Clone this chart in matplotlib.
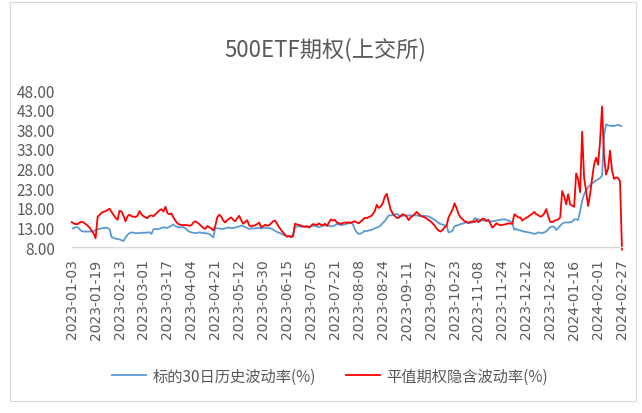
import matplotlib
matplotlib.use("Agg")
import matplotlib.pyplot as plt
import numpy as np
from matplotlib.patches import Rectangle
from matplotlib.lines import Line2D

plt.rcParams['font.family'] = ['Noto Sans CJK SC', 'DejaVu Sans']

title = "500ETF期权(上交所)"
series_names = ["标的30日历史波动率(%)", "平值期权隐含波动率(%)"]

tick_labels = ["2023-01-03", "2023-01-19", "2023-02-13", "2023-03-01", "2023-03-17",
               "2023-04-04", "2023-04-21", "2023-05-12", "2023-05-30", "2023-06-15",
               "2023-07-05", "2023-07-21", "2023-08-08", "2023-08-24", "2023-09-11",
               "2023-09-27", "2023-10-23", "2023-11-08", "2023-11-24", "2023-12-12",
               "2023-12-28", "2024-01-16", "2024-02-01", "2024-02-27"]
tick_step = 12  # trading days between labelled categories

hist_vol = [
    12.7, 12.9, 13.1, 13.1, 12.6, 12.1, 12.0, 12.0, 12.0, 12.0, 12.1, 12.2, 12.3,
    12.6, 12.7, 12.8, 12.9, 13.0, 12.9, 12.6, 10.6, 10.4, 10.2, 10.1, 10.0,
    9.8, 9.6, 10.5, 11.2, 11.6, 11.8, 11.7, 11.6, 11.6, 11.6, 11.7, 11.7,
    11.7, 11.8, 11.8, 11.4, 12.6, 12.7, 12.6, 12.7, 12.9, 13.1, 13.0, 12.9,
    13.2, 13.5, 13.8, 13.4, 13.2, 13.1, 13.1, 13.1, 12.9, 12.3, 12.0, 11.8,
    11.7, 11.6, 11.7, 11.8, 11.7, 11.6, 11.6, 11.5, 11.4, 11.0, 10.5, 12.9,
    12.8, 12.8, 12.7, 12.7, 12.8, 13.0, 13.0, 12.9, 12.9, 13.0, 13.2, 13.3,
    13.5, 13.4, 13.1, 12.9, 12.7, 12.8, 12.8, 12.8, 12.9, 12.9, 12.8, 12.9,
    13.0, 12.9, 12.9, 12.8, 12.5, 12.2, 11.9, 11.7, 11.5, 11.2, 11.0, 10.9,
    10.8, 10.8, 11.2, 13.2, 13.3, 13.3, 13.2, 13.3, 13.3, 13.2, 13.2, 13.3,
    13.5, 13.4, 13.3, 13.1, 13.3, 13.5, 13.6, 13.7, 13.5, 13.3, 13.4, 13.6,
    13.9, 13.8, 13.7, 13.7, 13.8, 14.0, 14.1, 14.2, 13.9, 12.6, 11.8, 11.4,
    11.5, 11.8, 12.2, 12.1, 12.3, 12.4, 12.6, 12.8, 13.0, 13.2, 13.6, 14.2,
    14.6, 15.4, 16.1, 16.1, 16.2, 16.3, 16.5, 16.2, 15.8, 16.0, 16.1, 16.1,
    16.1, 16.1, 16.1, 16.1, 16.1, 16.0, 16.0, 16.0, 16.0, 15.9, 15.9, 15.6,
    15.3, 15.0, 14.6, 14.2, 13.9, 13.8, 13.6, 13.5, 11.8, 11.9, 12.2, 13.4,
    13.5, 13.7, 13.9, 14.0, 14.2, 14.3, 14.2, 14.2, 14.3, 15.4, 15.3, 15.1,
    14.9, 14.8, 14.8, 14.8, 14.7, 14.6, 14.6, 14.7, 14.8, 14.9, 15.0, 15.1,
    15.1, 15.0, 14.8, 14.6, 14.2, 12.4, 12.7, 12.4, 12.3, 12.1, 12.0, 11.9,
    11.8, 11.7, 11.6, 11.4, 11.5, 11.8, 11.7, 11.6, 11.8, 12.0, 12.6, 13.1,
    13.3, 13.2, 12.4, 12.9, 13.5, 14.0, 14.3, 14.3, 14.3, 14.4, 14.5, 15.1,
    15.1, 15.0, 17.2, 19.8, 21.5, 22.5, 23.3, 23.8, 24.2, 24.6, 25.0, 25.3,
    25.6, 26.2, 36.5, 39.3, 39.0, 38.9, 38.9, 38.8, 39.0, 39.2, 38.9, 38.8,
]

impl_vol = [
    14.4, 14.1, 13.9, 13.9, 14.3, 14.5, 14.3, 13.9, 13.5, 13.0, 12.2, 11.5, 10.3,
    15.8, 16.2, 16.8, 17.0, 17.2, 17.5, 17.8, 17.0, 16.2, 15.5, 15.0, 17.3,
    17.1, 16.0, 14.6, 15.9, 16.3, 15.9, 15.8, 15.7, 16.0, 17.2, 16.4, 15.9,
    15.6, 15.4, 16.0, 16.1, 15.9, 16.4, 16.9, 17.4, 17.7, 17.1, 18.3, 16.7,
    16.4, 16.6, 15.6, 14.8, 14.1, 13.8, 13.7, 13.6, 13.7, 13.6, 13.5, 13.6,
    14.3, 14.6, 14.3, 13.9, 13.4, 12.9, 12.7, 13.4, 13.1, 12.8, 12.3, 13.4,
    15.6, 16.3, 15.8, 14.8, 14.3, 14.9, 15.3, 15.6, 15.0, 14.6, 15.4, 16.0,
    14.9, 14.0, 14.4, 14.9, 13.6, 13.3, 13.5, 13.6, 13.9, 14.3, 13.1, 13.4,
    13.7, 13.5, 13.6, 14.1, 14.6, 14.8, 14.0, 13.1, 12.4, 11.8, 11.2, 10.7,
    10.9, 10.6, 10.8, 14.0, 13.8, 13.7, 13.5, 13.3, 13.2, 13.4, 13.0, 13.5,
    13.9, 13.8, 13.6, 14.1, 13.7, 13.6, 14.0, 13.4, 14.3, 15.1, 14.8, 15.0,
    14.3, 14.1, 13.9, 14.2, 14.3, 14.2, 14.4, 14.2, 14.5, 14.6, 14.3, 14.1,
    14.6, 15.0, 15.5, 15.4, 15.7, 15.9, 16.4, 17.2, 18.8, 18.0, 18.4, 19.2,
    20.8, 21.6, 19.6, 17.5, 16.6, 16.0, 15.5, 15.5, 16.0, 16.4, 16.2, 15.8,
    14.9, 15.6, 16.0, 16.4, 17.0, 16.5, 16.0, 15.8, 15.6, 15.3, 14.9, 14.6,
    14.1, 13.5, 12.8, 12.3, 12.0, 12.4, 13.1, 13.4, 15.6, 16.6, 17.6, 19.2,
    18.0, 16.5, 15.6, 15.2, 14.6, 14.5, 14.2, 14.5, 14.6, 14.4, 14.9, 14.4,
    14.8, 15.3, 15.2, 14.7, 15.0, 14.0, 13.0, 13.5, 14.1, 13.8, 13.6, 13.7,
    13.8, 13.9, 14.1, 14.0, 14.0, 16.4, 16.0, 15.6, 15.6, 14.8, 15.2, 15.5,
    15.8, 16.2, 16.5, 17.0, 16.4, 16.2, 15.8, 16.0, 16.6, 17.7, 15.9, 14.5,
    14.4, 14.7, 14.9, 15.1, 15.6, 22.3, 21.0, 18.9, 21.5, 18.9, 18.6, 18.3,
    26.8, 25.3, 22.0, 37.4, 25.6, 22.3, 18.5, 21.5, 25.5, 29.0, 30.8, 29.0,
    35.0, 43.8, 31.0, 26.5, 28.0, 32.6, 27.5, 25.4, 25.8, 25.6, 24.8, 7.4,
]

W, H = 642, 414
fig = plt.figure(figsize=(W / 100, H / 100), dpi=100)

# chart outer border
fig.add_artist(Rectangle((9.5 / W, 1 - 402 / H), (636 - 9.5) / W, (402 - 3) / H,
                         transform=fig.transFigure, fill=False,
                         edgecolor='#D9D9D9', lw=0.8))

left, right, top, bottom = 71.7, 622.0, 91.0, 248.3
ax = fig.add_axes([left / W, 1 - bottom / H, (right - left) / W, (bottom - top) / H])

x_hist = np.arange(len(hist_vol))
x_impl = np.arange(len(impl_vol))
ax.plot(x_hist, hist_vol, color='#5B9BD5', lw=1.3, solid_joinstyle='round')
ax.plot(x_impl, impl_vol, color='#FF0000', lw=1.3, solid_joinstyle='round', clip_on=False)

n = max(len(hist_vol), len(impl_vol))
ax.set_xlim(0, n - 1)
ax.set_ylim(8, 48)

yt = np.arange(8, 49, 5)
ax.set_yticks(yt)
ax.set_yticklabels([f"{v:.2f}" for v in yt], fontsize=11, color='#595959')

xt = np.arange(len(tick_labels)) * tick_step
ax.set_xticks(xt)
ax.set_xticklabels(tick_labels, rotation=90, fontsize=10, color='#595959',
                   family='DejaVu Sans')

ax.tick_params(axis='both', length=0)
ax.tick_params(axis='y', pad=12)
ax.tick_params(axis='x', pad=8)
for s in ['top', 'right', 'left']:
    ax.spines[s].set_visible(False)
ax.spines['bottom'].set_color('#D9D9D9')
ax.spines['bottom'].set_linewidth(1.0)
ax.set_facecolor('none')

fig.text(325 / W, 1 - 50 / H, title, ha='center', va='center', fontsize=16, color='#595959')

handles = [Line2D([], [], color='#5B9BD5', lw=1.3), Line2D([], [], color='#FF0000', lw=1.3)]
leg = fig.legend(handles, series_names, loc='center', bbox_to_anchor=(330 / W, 1 - 377 / H),
                 ncol=2, frameon=False, fontsize=11, handlelength=2.2, handletextpad=0.4,
                 columnspacing=2.0)
for t in leg.get_texts():
    t.set_color('#595959')

fig.savefig('out.png', dpi=100)
